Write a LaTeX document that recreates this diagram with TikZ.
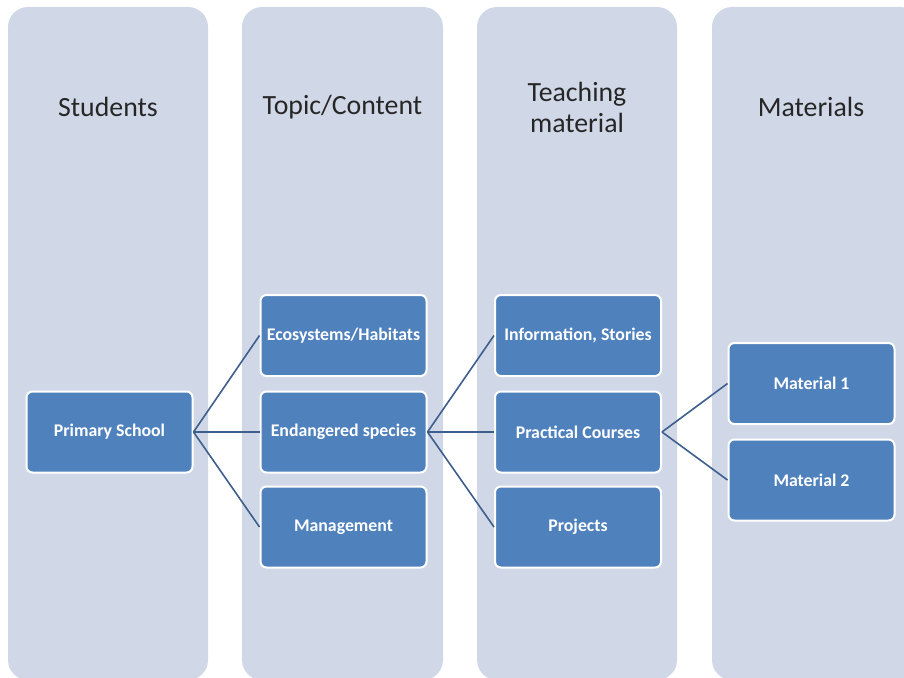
\documentclass[tikz,border=0pt]{standalone}
\usepackage{fontspec}
\setmainfont{Carlito}
\definecolor{colfill}{HTML}{D0D8E7}
\definecolor{boxblue}{HTML}{4F81BD}
\definecolor{linkcol}{HTML}{3E5F8D}
\definecolor{hdrcol}{HTML}{262626}
\tikzset{
  colbg/.style={fill=colfill, rounded corners=20pt},
  hdr/.style={text=hdrcol, font=\fontsize{27.8}{31}\selectfont, align=center},
  bluebox/.style={rectangle, rounded corners=6pt, fill=boxblue, draw=white, line width=2pt,
    minimum width=166pt, minimum height=81pt, text=white, inner sep=1pt,
    font=\fontsize{17.8}{20}\selectfont\bfseries},
  link/.style={draw=linkcol, line width=1.6pt}
}
\begin{document}
\begin{tikzpicture}[x=1pt,y=-1pt]
\useasboundingbox (0,0) rectangle (904,677);
\fill[white] (0,0) rectangle (904,677);
\begin{scope}
\clip (0,0) rectangle (904,677);
\fill[colbg] (8,7) rectangle (208,680);
\fill[colbg] (242,7) rectangle (443,680);
\fill[colbg] (477,7) rectangle (677,680);
\fill[colbg] (712,7) rectangle (920,680);
\end{scope}
\node[hdr] (h1) at (108,107) {Students};
\node[hdr] (h2) at (342.5,107) {Topic/Content};
\node[hdr] (h3) at (577,107) {Teaching\\material};
\node[hdr] (h4) at (811,107) {Materials};

\node[bluebox] (ps) at (109.5,432) {Primary School};
\node[bluebox] (eco) at (343.5,335.5) {Ecosystems/Habitats};
\node[bluebox] (end) at (343.5,432) {Endangered species};
\node[bluebox] (man) at (343.5,527) {Management};
\node[bluebox] (inf) at (578,335.5) {Information, Stories};
\node[bluebox] (pra) at (578,432) {Practical Courses};
\node[bluebox] (pro) at (578,527) {Projects};
\node[bluebox] (m1) at (811.5,383.5) {Material 1};
\node[bluebox] (m2) at (811.5,480) {Material 2};

\draw[link] (ps.east) -- (eco.west);
\draw[link] (ps.east) -- (end.west);
\draw[link] (ps.east) -- (man.west);
\draw[link] (end.east) -- (inf.west);
\draw[link] (end.east) -- (pra.west);
\draw[link] (end.east) -- (pro.west);
\draw[link] (pra.east) -- (m1.west);
\draw[link] (pra.east) -- (m2.west);
\end{tikzpicture}
\end{document}
